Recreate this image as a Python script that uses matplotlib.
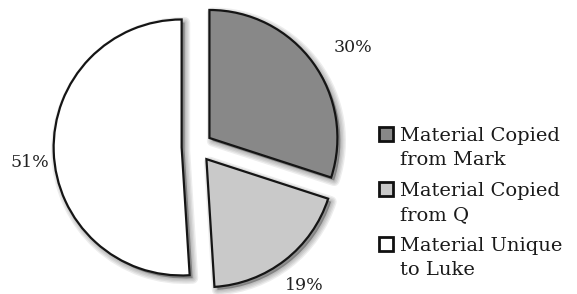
import matplotlib
matplotlib.use("Agg")
import matplotlib.pyplot as plt
from matplotlib.patches import Wedge, Rectangle
import numpy as np

# ---- data ----
categories = ["Material Copied\nfrom Mark", "Material Copied\nfrom Q", "Material Unique\nto Luke"]
values = [30, 19, 51]
pct_labels = ["30%", "19%", "51%"]

# ---- style ----
colors = ["#888888", "#c9c9c9", "#ffffff"]
explode = [0.12, 0.12, 0.12]
label_dist = [1.325, 1.245, 1.19]
label_angle_shift = [-3.6, 0.0, 3.8]
W, H, DPI = 577, 294, 100
R_PX = 128.0
CX, CY = 197.0, 147.0  # pie centre in pixels (from left, from top)

plt.rcParams["font.family"] = ["DejaVu Serif"]

fig = plt.figure(figsize=(W / DPI, H / DPI), dpi=DPI)
ax = fig.add_axes([0, 0, 1, 1])

wedges, texts = ax.pie(values, colors=colors, explode=explode, startangle=90,
                       counterclock=False, radius=1.0,
                       wedgeprops=dict(edgecolor="#151515", linewidth=1.6))

# soft drop shadows
off = 3.0 / R_PX
for w in wedges:
    cx, cy = w.center
    base = Wedge((cx + off, cy - off), w.r, w.theta1, w.theta2,
                 facecolor="#000000", edgecolor="none", alpha=0.3, zorder=0)
    ax.add_patch(base)
    for lw in [2, 4, 6, 8]:
        s = Wedge((cx + off, cy - off), w.r, w.theta1, w.theta2,
                  facecolor="none", edgecolor="#000000", linewidth=lw,
                  alpha=0.07, zorder=0, joinstyle="round")
        ax.add_patch(s)

# percentage labels
for w, lab, d, ex, sh in zip(wedges, pct_labels, label_dist, explode, label_angle_shift):
    thm = np.deg2rad((w.theta1 + w.theta2) / 2)
    th = np.deg2rad((w.theta1 + w.theta2) / 2 + sh)
    x = ex * np.cos(thm) + d * np.cos(th)
    y = ex * np.sin(thm) + d * np.sin(th)
    ax.text(x, y, lab, ha="center", va="center", fontsize=12.5, color="#222222")

ax.set_xlim(-CX / R_PX, (W - CX) / R_PX)
ax.set_ylim(-(H - CY) / R_PX, CY / R_PX)
ax.set_aspect("auto")
ax.axis("off")

# legend (drawn by hand so the swatch sits on the first text line)
LEG_X, LEG_Y0, LEG_PITCH, LINE_H, BOX = 379, 134, 55, 24, 14
for i, (cat, col) in enumerate(zip(categories, colors)):
    yc = LEG_Y0 + i * LEG_PITCH
    fig.patches.append(Rectangle(((LEG_X) / W, 1 - (yc + BOX / 2) / H),
                                 BOX / W, BOX / H, transform=fig.transFigure,
                                 facecolor=col, edgecolor="#111111",
                                 linewidth=2.0))
    for j, line in enumerate(cat.split("\n")):
        fig.text(400 / W, 1 - (yc + 7 + j * LINE_H) / H, line,
                 ha="left", va="baseline", fontsize=14, color="#1a1a1a")

fig.savefig("out.png", dpi=DPI)
